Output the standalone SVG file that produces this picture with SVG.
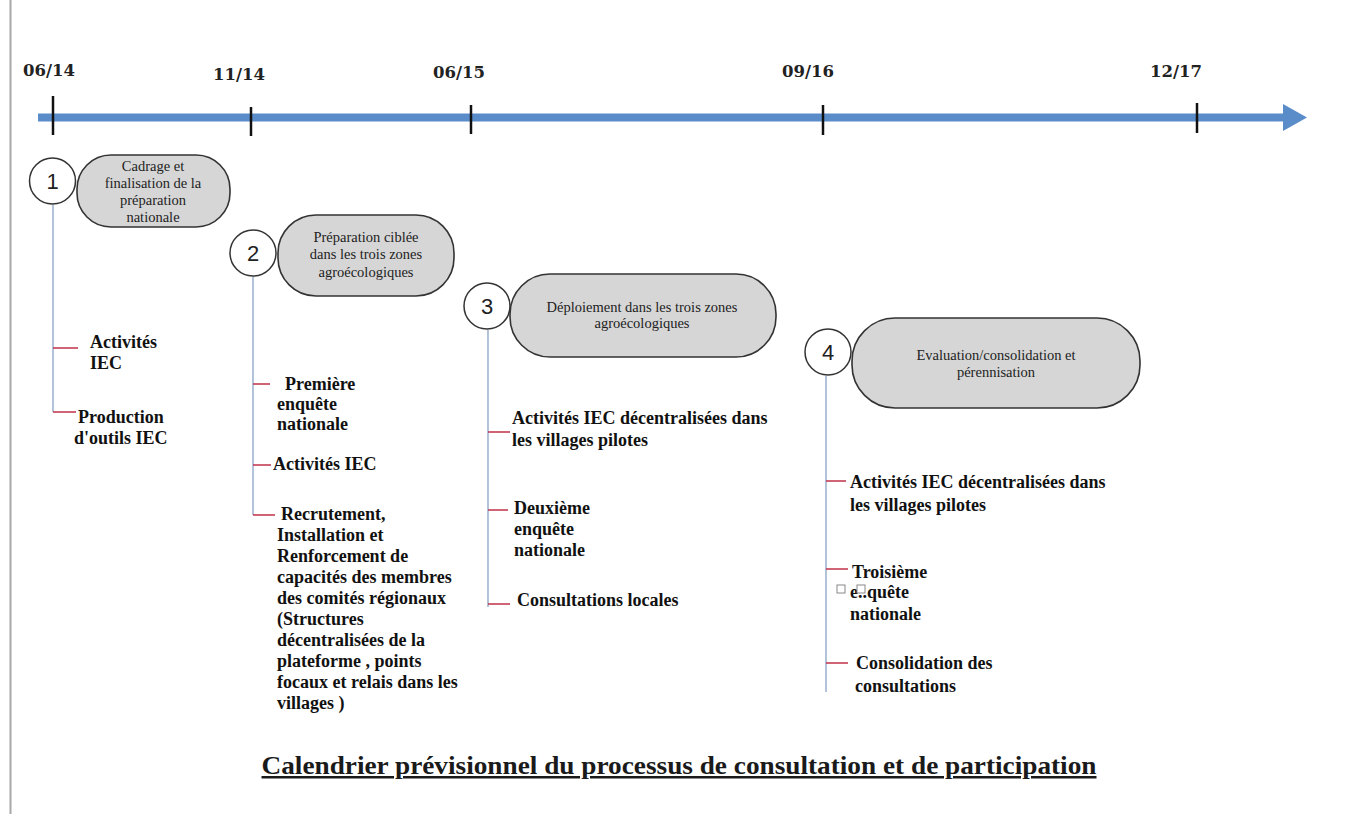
<svg xmlns="http://www.w3.org/2000/svg" width="1360" height="814" viewBox="0 0 1360 814">
<style>
.date{font-family:"DejaVu Serif","Liberation Serif",serif;font-weight:bold;font-size:16.5px;fill:#222}
.num{font-family:"Liberation Sans","Open Sans",sans-serif;font-size:22px;fill:#222;text-anchor:middle}
.pill{fill:#d6d6d6;stroke:#333;stroke-width:1.6}
.circ{fill:#fff;stroke:#333;stroke-width:1.5}
.pt{font-family:"Liberation Serif",serif;font-size:14.5px;fill:#222;text-anchor:middle}
.act{font-family:"Liberation Serif",serif;font-weight:bold;font-size:18px;fill:#111}
.vl{stroke:#8aa2c4;stroke-width:1.3;fill:none}
.tk{stroke:#c0304a;stroke-width:1.5}
.tick{stroke:#111;stroke-width:2.5}
.title{font-family:"Liberation Serif",serif;font-weight:bold;font-size:25px;fill:#1a1a1a;text-anchor:middle;text-decoration:underline}
</style>
<rect width="1360" height="814" fill="#fff"/>
<line x1="10.5" y1="0" x2="10.5" y2="814" stroke="#a8a8a8" stroke-width="2"/>

<g id="timeline">
<rect x="38" y="113.5" width="1247" height="8" fill="#5a8cca"/>
<polygon points="1283,104 1307,117.5 1283,131" fill="#5a8cca"/>
<line class="tick" x1="53" y1="96" x2="53" y2="135"/>
<line class="tick" x1="251" y1="107" x2="251" y2="136"/>
<line class="tick" x1="471" y1="105" x2="471" y2="134"/>
<line class="tick" x1="823" y1="105" x2="823" y2="135"/>
<line class="tick" x1="1197" y1="103" x2="1197" y2="133"/>
<text class="date" x="23" y="76">06/14</text>
<text class="date" x="213" y="80">11/14</text>
<text class="date" x="433" y="78">06/15</text>
<text class="date" x="782" y="77">09/16</text>
<text class="date" x="1150" y="77">12/17</text>
</g>

<g id="connectors">
<path class="vl" d="M53,205 V412"/>
<line class="tk" x1="53" y1="348" x2="78" y2="348"/>
<line class="tk" x1="53" y1="412" x2="76" y2="412"/>
<path class="vl" d="M253,277 V515"/>
<line class="tk" x1="253" y1="384" x2="270" y2="384"/>
<line class="tk" x1="253" y1="465" x2="271" y2="465"/>
<line class="tk" x1="253" y1="515" x2="275" y2="515"/>
<path class="vl" d="M488,330 V607"/>
<line class="tk" x1="488" y1="432" x2="510" y2="432"/>
<line class="tk" x1="488" y1="510" x2="508" y2="510"/>
<line class="tk" x1="488" y1="604" x2="510" y2="604"/>
<path class="vl" d="M826,376 V692"/>
<line class="tk" x1="826" y1="481" x2="846" y2="481"/>
<line class="tk" x1="826" y1="569" x2="848" y2="569"/>
<line class="tk" x1="826" y1="663" x2="848" y2="663"/>
</g>

<g id="phase1">
<rect class="pill" x="77" y="155" width="153" height="72" rx="34" ry="34"/>
<circle class="circ" cx="52.5" cy="181" r="23"/>
<text class="num" x="52.5" y="189">1</text>
<text class="pt" x="153" y="171">Cadrage et</text>
<text class="pt" x="153" y="188">finalisation de la</text>
<text class="pt" x="153" y="205">préparation</text>
<text class="pt" x="153" y="222">nationale</text>
</g>

<g id="phase2">
<rect class="pill" x="278" y="215" width="176" height="81" rx="38" ry="38"/>
<circle class="circ" cx="253" cy="253" r="23"/>
<text class="num" x="253" y="261">2</text>
<text class="pt" x="366" y="242">Préparation ciblée</text>
<text class="pt" x="366" y="259">dans les trois zones</text>
<text class="pt" x="366" y="277">agroécologiques</text>
</g>

<g id="phase3">
<rect class="pill" x="510" y="274" width="266" height="83" rx="40" ry="40"/>
<circle class="circ" cx="487" cy="306" r="23"/>
<text class="num" x="487" y="314">3</text>
<text class="pt" x="642" y="312">Déploiement dans les trois zones</text>
<text class="pt" x="642" y="328">agroécologiques</text>
</g>

<g id="phase4">
<rect class="pill" x="852" y="318" width="288" height="90" rx="43" ry="43"/>
<circle class="circ" cx="828" cy="352" r="23"/>
<text class="num" x="828" y="360">4</text>
<text class="pt" x="996" y="360">Evaluation/consolidation et</text>
<text class="pt" x="996" y="377">pérennisation</text>
</g>

<g id="activities1">
<text class="act" x="90" y="348">Activités</text>
<text class="act" x="90" y="369">IEC</text>
<text class="act" x="78" y="423">Production</text>
<text class="act" x="74" y="444">d'outils IEC</text>
</g>

<g id="activities2">
<text class="act" x="285" y="390">Première</text>
<text class="act" x="277" y="410">enquête</text>
<text class="act" x="277" y="430">nationale</text>
<text class="act" x="273" y="470">Activités IEC</text>
<text class="act" x="281" y="520">Recrutement,</text>
<text class="act" x="277" y="541">Installation et</text>
<text class="act" x="277" y="562">Renforcement de</text>
<text class="act" x="277" y="583">capacités des membres</text>
<text class="act" x="277" y="604">des comités  régionaux</text>
<text class="act" x="277" y="625">(Structures</text>
<text class="act" x="277" y="646">décentralisées de la</text>
<text class="act" x="277" y="667">plateforme , points</text>
<text class="act" x="277" y="688">focaux et relais dans les</text>
<text class="act" x="277" y="709">villages )</text>
</g>

<g id="activities3">
<text class="act" x="512" y="424">Activités IEC décentralisées dans</text>
<text class="act" x="512" y="446">les villages pilotes</text>
<text class="act" x="514" y="514">Deuxième</text>
<text class="act" x="514" y="535">enquête</text>
<text class="act" x="514" y="556">nationale</text>
<text class="act" x="517" y="606">Consultations locales</text>
</g>

<g id="activities4">
<text class="act" x="850" y="488">Activités IEC décentralisées dans</text>
<text class="act" x="850" y="511">les villages pilotes</text>
<text class="act" x="852" y="578">Troisième</text>
<text class="act" x="850" y="598">e..quête</text>
<rect x="837" y="585" width="8" height="8" fill="#fff" stroke="#888" stroke-width="1"/>
<rect x="857" y="585" width="8" height="8" fill="#fff" stroke="#888" stroke-width="1"/>
<text class="act" x="850" y="620">nationale</text>
<text class="act" x="856" y="669">Consolidation des</text>
<text class="act" x="855" y="692">consultations</text>
</g>

<g id="caption">
<text class="title" x="679" y="774" textLength="835" lengthAdjust="spacingAndGlyphs">Calendrier prévisionnel du processus de consultation et de participation</text>
</g>
</svg>
